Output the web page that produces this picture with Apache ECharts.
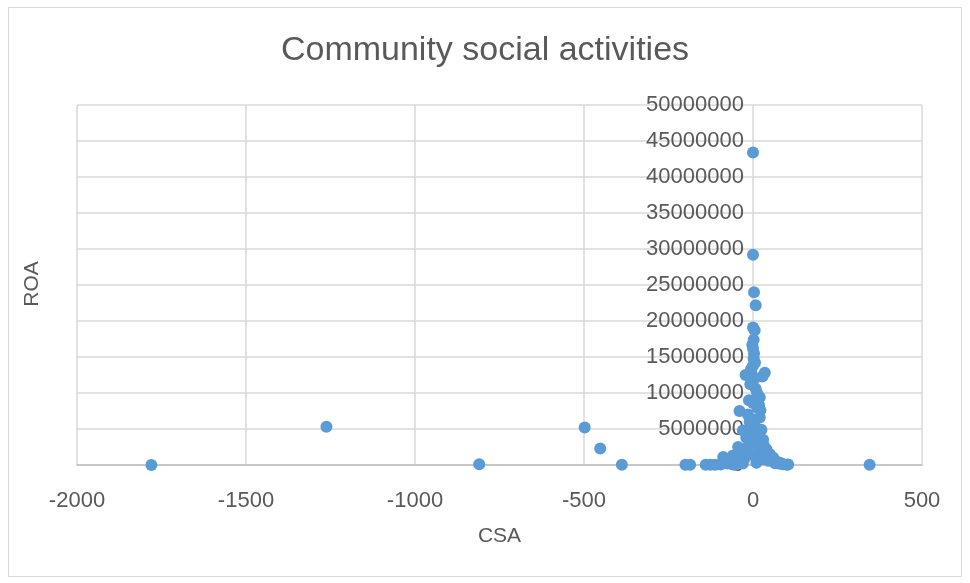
<!DOCTYPE html>
<html>
<head>
<meta charset="utf-8">
<script src="https://cdn.jsdelivr.net/npm/echarts@6/dist/echarts.min.js"></script>
<style>
html,body{margin:0;padding:0;background:#fff;}
#frame{position:absolute;left:8px;top:7px;width:954px;height:570px;border:1px solid #d9d9d9;box-sizing:border-box;}
#chart{position:absolute;left:0;top:0;width:970px;height:583px;}
</style>
</head>
<body>
<div id="frame"></div>
<div id="chart"></div>
<script>
const titleText = "Community social activities";
const xAxisTitle = "CSA";
const yAxisTitle = "ROA";
const xTicks = [-2000, -1500, -1000, -500, 0, 500];
const yTicks = [0, 5000000, 10000000, 15000000, 20000000, 25000000, 30000000, 35000000, 40000000, 45000000, 50000000];

// CSA values
const csa = [
  -1780, -1262, -810, -498, -452, -388, -200, -186, -140, -126, -112, -96, -88, -76, 345,
  0, 0, 3, 8, 0, 5, 0, 3, 2, 0, -5, -22, 35, 28, 5, -8, 8, 20, -40, 0, 12, -15, 20, -10, 5,
  -30, 25, -5, 15, -20, 30, -44, 10, -10, 40, -25, 20, 50, -60, 0, 60, -35, -70, 30, 70,
  -50, 80, 90, 100, -30, 10, 104, 85, 65, 45, -62, -55, -45, 15, -15, 25, -25, 35, 55, 75,
  2, -2, 6, -6, 12, 18, -12, 22, 4, -4, 9, 14, -18, 33, 42
];
// ROA values
const roa = [
  0, 5300000, 100000, 5200000, 2300000, 50000, 50000, 30000, 20000, 40000, 30000, 60000, 1100000, 200000, 30000,
  43400000, 29200000, 24000000, 22200000, 19100000, 18700000, 16200000, 15500000, 14800000, 13800000, 12900000, 12500000, 12800000, 12300000, 12000000,
  11200000, 10600000, 9400000, 7500000, 8600000, 8000000, 7000000, 6600000, 6000000, 5500000,
  4800000, 4900000, 4500000, 4000000, 3800000, 3500000, 2500000, 3000000, 2800000, 2200000, 2000000, 1800000, 1500000, 1300000, 1400000, 1000000, 1000000, 700000, 800000, 500000,
  400000, 300000, 100000, 50000, 200000, 300000, 80000, 150000, 250000, 600000, 100000, 50000, 300000, 1200000, 1600000, 1100000, 900000, 1900000, 700000, 200000,
  17400000, 16700000, 14200000, 13300000, 10000000, 8300000, 9000000, 7600000, 6300000, 5100000, 4300000, 3300000, 2400000, 2600000, 1700000
];

const points = csa.map((v, i) => [v, roa[i]]);

const textColor = "#595959";
const gridColor = "#d9d9d9";
const fontFam = "'Liberation Sans', Arial, sans-serif";
const gridLeft = 77;

const chart = echarts.init(document.getElementById('chart'));
chart.setOption({
  animation: false,
  backgroundColor: 'transparent',
  title: {
    text: titleText,
    left: 'center',
    top: 29,
    textStyle: {color: textColor, fontSize: 34, fontWeight: 'normal', fontFamily: fontFam}
  },
  grid: {left: gridLeft, right: 48, top: 105, bottom: 118, containLabel: false, outerBoundsMode: 'none'},
  xAxis: {
    type: 'value',
    min: xTicks[0], max: xTicks[xTicks.length - 1], interval: 500,
    name: xAxisTitle,
    nameLocation: 'middle',
    nameGap: 61,
    nameTextStyle: {color: textColor, fontSize: 21, fontFamily: fontFam},
    axisLine: {onZero: false, lineStyle: {color: '#bfbfbf', width: 1.5}},
    axisTick: {show: false},
    axisLabel: {color: textColor, fontSize: 22, fontFamily: fontFam, margin: 25, formatter: v => String(v)},
    splitLine: {show: true, lineStyle: {color: gridColor, width: 1.5}}
  },
  yAxis: {
    type: 'value',
    position: 'left',
    min: yTicks[0], max: yTicks[yTicks.length - 1], interval: 5000000,
    axisLine: {show: false, onZero: false},
    axisTick: {show: false},
    axisLabel: {color: textColor, fontSize: 22, fontFamily: fontFam, margin: 9, formatter: v => String(v)},
    splitLine: {show: true, lineStyle: {color: gridColor, width: 1.5}}
  },
  graphic: [{
    type: 'text',
    rotation: Math.PI / 2,
    style: {text: yAxisTitle, fill: textColor, fontSize: 21, fontFamily: fontFam, align: 'center', verticalAlign: 'middle'},
    x: 32, y: 284
  }],
  series: [{
    type: 'scatter',
    data: points,
    symbolSize: 12,
    itemStyle: {color: '#5b9bd5', opacity: 1},
    z: 3
  }]
});
// Place the value-axis labels where CSA = 0, using the library's own scale
const zeroPx = chart.convertToPixel({xAxisIndex: 0}, 0);
chart.setOption({yAxis: {offset: -(zeroPx - gridLeft)}});
</script>
</body>
</html>
